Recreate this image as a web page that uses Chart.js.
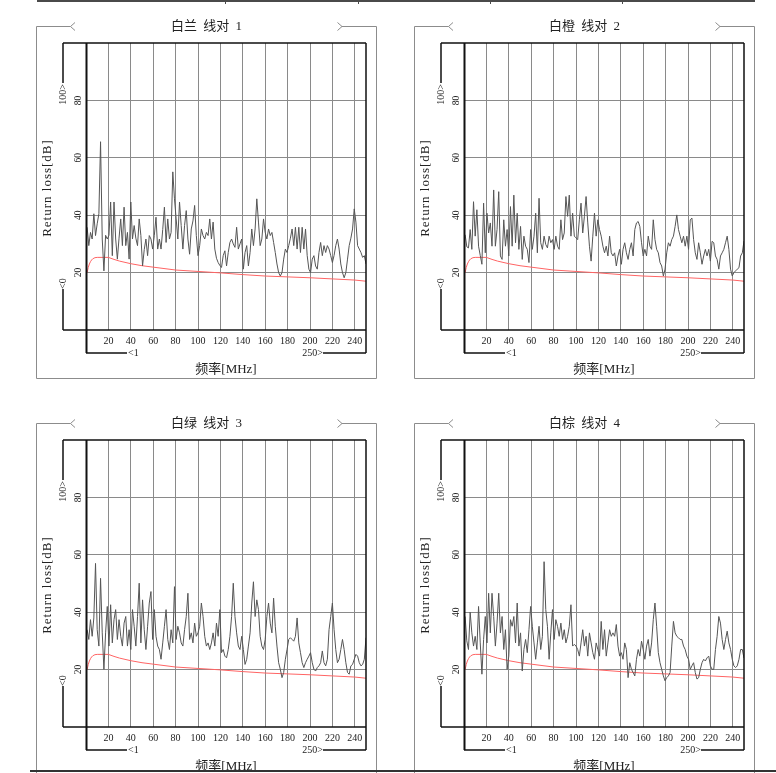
<!DOCTYPE html>
<html><head><meta charset="utf-8">
<script src="https://cdn.jsdelivr.net/npm/chart.js@4.4.1/dist/chart.umd.min.js"></script>
<style>
html,body{margin:0;padding:0;background:#fff;width:776px;height:773px;overflow:hidden;}
#page{position:relative;width:776px;height:773px;overflow:hidden;background:#fff;}
canvas{position:absolute;}
.rule{position:absolute;background:#4a4a4a;}
</style></head><body>
<div id="page">
  <div class="rule" style="left:37px;top:0;width:718px;height:2px"></div>
  <div class="rule" style="left:225px;top:0;width:1px;height:4px"></div>
  <div class="rule" style="left:358px;top:0;width:1px;height:4px"></div>
  <div class="rule" style="left:490px;top:0;width:1px;height:4px"></div>
  <div class="rule" style="left:622px;top:0;width:1px;height:4px"></div>
  <canvas id="c1" width="400" height="400" style="left:0;top:0"></canvas>
  <canvas id="c2" width="400" height="400" style="left:378px;top:0"></canvas>
  <canvas id="c3" width="400" height="400" style="left:0;top:397px"></canvas>
  <canvas id="c4" width="400" height="400" style="left:378px;top:397px"></canvas>
  <div class="rule" style="left:30px;top:770px;width:746px;height:2px;background:#333"></div>
</div>
<script>
// ---------- data ----------
const PANEL_TITLES = ['白兰 线对 1', '白橙 线对 2', '白绿 线对 3', '白棕 线对 4'];
const X_TITLE = '频率[MHz]';
const Y_TITLE = 'Return loss[dB]';
const X_TICKS = [20, 40, 60, 80, 100, 120, 140, 160, 180, 200, 220, 240];
const Y_TICKS = [20, 40, 60, 80];
const X_RANGE = [0, 250];
const Y_RANGE = [0, 100];
const X_BRACKET = ['<1', '250>'];
const Y_BRACKET = ['<0', '100>'];

// limit line (red)
const LIMIT_FREQ = [1, 2, 3, 4, 5, 6, 8, 10, 20, 25, 30, 40, 50, 60, 80, 100, 120, 140, 160, 180, 200, 220, 240, 250];
const LIMIT_DB   = [20, 21.8, 23, 23.8, 24.4, 24.8, 25.2, 25.3, 25.3, 24.6, 24, 23.1, 22.4, 21.9, 20.9, 20.4, 19.9, 19.3, 18.8, 18.5, 18.2, 17.8, 17.4, 17.0];

// measured return loss, one value every 1.5 MHz starting at 1 MHz
const PAIR1_DB = [
  35.8, 29.4, 34, 31.7, 40.5, 32.9, 37, 40.5, 65.6, 31.7,
  20.6, 33, 31.7, 33, 44.6, 25.9, 44.6, 31.7, 24.7, 32,
  38.7, 29.4, 42.8, 29.4, 34, 24.7, 44.6, 31.7, 36.4, 32,
  29.4, 38.7, 32.9, 22.3, 28, 31.7, 25.9, 32.9, 31.7, 28.2,
  33, 39.3, 28.2, 31.7, 28.2, 35, 42.8, 30.5, 38.7, 31.7,
  34, 55.1, 45.7, 38.7, 31.7, 44.6, 36.4, 28.2, 36.4, 41.6,
  31.7, 26.4, 35.2, 38, 43.4, 32.9, 25.9, 29.4, 35.2, 32.9,
  31.7, 34, 32.9, 38.7, 31.7, 37.6, 28.2, 25, 23.5, 22.5,
  21.8, 25.9, 27.6, 22.3, 27, 30.5, 31.7, 30, 28.8, 35.8,
  28.2, 30, 31.7, 21.2, 27, 29.4, 22.3, 27, 35.2, 29.4,
  35.2, 45.7, 37.6, 29.4, 31.7, 38.7, 34, 31.7, 35.2, 32.9,
  34, 30.5, 27, 23, 20, 18.8, 20, 24.7, 28.2, 27,
  29.4, 32, 35.2, 29.4, 35.8, 28.2, 35.8, 27, 35.8, 28.2,
  35.2, 25.9, 21.2, 20, 24.7, 25.9, 22.3, 21.2, 27, 30.5,
  25.9, 29.4, 27, 29.4, 28.2, 25.9, 23.5, 26, 29.4, 31.7,
  28.2, 23, 20, 18.2, 20, 24.7, 29.4, 32, 35.2, 42.2,
  37.6, 29.4, 28.2, 27, 25.3, 25.9, 23
];
const PAIR2_DB = [
  33.2, 29, 28.6, 35, 28.1, 44.7, 32.7, 41.9, 29.2, 26,
  22.9, 44.2, 26.9, 40.7, 33.8, 37.3, 29.2, 48.8, 29.2, 35,
  48.2, 25.8, 24.6, 38.4, 29.2, 35, 25.8, 43, 29.2, 47,
  30.4, 40.7, 28.1, 36.1, 24.6, 32.7, 29.2, 28.1, 23.5, 35,
  28.1, 32.7, 40.7, 26.9, 45.9, 30.4, 28.1, 32.7, 29.8, 28.6,
  32.7, 30.4, 31.5, 28.1, 32.7, 29.2, 28.1, 38.4, 31.5, 33.8,
  46.5, 39.6, 47, 32.7, 40.7, 32.7, 32.1, 31.5, 38.4, 44.2,
  33.8, 39.6, 46.5, 37.3, 29.2, 24, 32.7, 40.7, 32.7, 38.4,
  35, 32.7, 29.2, 26.9, 29.2, 25.8, 32.7, 26.9, 25.8, 26.9,
  22.3, 25.8, 28.1, 22.9, 28.1, 30.4, 26.9, 24.6, 28.1, 30.4,
  25.8, 35, 37.3, 37.8, 36.1, 30.4, 25.8, 28.1, 25.8, 32.7,
  29.2, 28.1, 38.4, 31.5, 28.1, 26.9, 23.5, 22.3, 18.8, 21.2,
  26.9, 30.4, 29.2, 31.5, 32.7, 36.1, 40.1, 35, 32.7, 30.4,
  32.7, 29.2, 32.7, 28.1, 38.4, 39, 31.5, 26.9, 24.6, 30.4,
  26.9, 22.9, 25.8, 28.1, 25.8, 28.1, 24, 30.9, 30.4, 25.8,
  24.6, 21.2, 25.8, 26.9, 28.1, 30.4, 32.7, 28.1, 21.2, 18.8,
  20, 20.6, 21.2, 21.7, 25.8, 26.9, 31
];
const PAIR3_DB = [
  33.9, 30.5, 37.4, 31.6, 38, 57, 33.9, 28.2, 51.8, 32.8,
  20.1, 32.8, 42, 28.2, 42.6, 29.3, 37.4, 40.9, 30.5, 37.4,
  31.6, 28.2, 36.2, 38.5, 28.2, 33.9, 27, 40.9, 35.1, 28.2,
  38.5, 50.1, 29.3, 44.3, 33.9, 27, 35.1, 43.2, 47.2, 30.5,
  40.9, 31.6, 28.2, 27, 23.6, 29.3, 35.1, 40.9, 30.5, 27,
  33.9, 29.3, 48.9, 30.5, 35.1, 32.8, 29.3, 28.2, 33.9, 38.5,
  46.6, 30.5, 32.8, 29.3, 36.2, 31.6, 32.8, 35.1, 43.2, 38.5,
  31.6, 28.2, 29.3, 27, 29.3, 32.8, 28.2, 36.2, 31.6, 40.9,
  25.9, 27, 24.7, 24.1, 27, 31.6, 38.5, 50.1, 38.5, 32.8,
  28.2, 27, 31.6, 27, 21.8, 23.6, 28.2, 32.8, 43.2, 50.6,
  38.5, 44.3, 40.9, 31.6, 28.2, 27, 30.5, 38.5, 43.2, 36.2,
  32.8, 44.9, 35.1, 28.2, 22.4, 20.1, 17.2, 19, 23.6, 27,
  30.5, 31.1, 30.5, 29.9, 31.6, 38, 29.3, 25.9, 22.4, 20.7,
  22.4, 23.6, 24.7, 25.9, 22.4, 20.1, 19.5, 20.7, 21.3, 22.4,
  26.5, 22.4, 21.3, 23.6, 33.9, 38.5, 43.2, 33.9, 27, 22.4,
  23.6, 27, 30.5, 27, 22.4, 19, 18.4, 21.3, 21.8, 23.6,
  25.3, 24.7, 22.4, 21.3, 21.8, 23.6, 31.1
];
const PAIR4_DB = [
  38.5, 30, 27, 40, 32.8, 28.2, 31.6, 27, 42, 29.3,
  18.4, 30.5, 38.5, 29.3, 46.6, 32.8, 46.6, 38.5, 28.2, 36.2,
  46.6, 32.8, 38.5, 27, 33.9, 20.1, 24.7, 37.4, 35.1, 38.5,
  29.3, 43.2, 28.2, 32.8, 19.5, 27, 30.5, 25.9, 33.9, 42,
  35.1, 29.3, 23.6, 29.3, 35.1, 27, 31.6, 57.6, 40.9, 35.1,
  23.6, 32.8, 40.9, 30.5, 37.4, 35.1, 31.6, 36.2, 30.5, 33.9,
  29.3, 31.6, 35.1, 42.6, 28.2, 28.8, 28.2, 27, 24.7, 29.3,
  33.9, 28.2, 31.6, 24.7, 32.8, 29.3, 25.9, 23.6, 29.3, 27,
  24.7, 36.8, 27, 33.9, 24.7, 29.3, 33.9, 31.6, 32.8, 31.6,
  35.7, 28.2, 24.7, 25.9, 23.6, 29.3, 27, 17.2, 22.4, 20.1,
  19, 17.8, 23.6, 27, 24.7, 29.9, 27, 23.6, 28.2, 30.5,
  24.7, 29.3, 37.4, 43.2, 35.1, 25.9, 22.4, 20.1, 17.8, 16.1,
  17.2, 17.8, 19, 28.2, 36.8, 32.8, 31.6, 31.1, 30.5, 30.5,
  28.2, 27, 24.7, 23.6, 20.1, 21.3, 22.4, 19, 16.7, 17.2,
  20.1, 22.4, 23.6, 23, 24.1, 24.7, 21.3, 20.1, 20.1, 27,
  31.6, 38.5, 36.2, 30.5, 27, 30.5, 33.4, 29.3, 27, 23.6,
  21.3, 20.7, 21.3, 23.6, 27, 27, 24
];
const PAIRS = [PAIR1_DB, PAIR2_DB, PAIR3_DB, PAIR4_DB];
const FREQ_MHZ = PAIR1_DB.map((_, i) => 1 + 1.5 * i); // sampling grid

// ---------- styling ----------
const FONT = "'Liberation Serif', 'Noto Sans CJK SC', serif";
const TEXT_COLOR = '#222';
const GRID_COLOR = '#8a8a8a';

const framePlugin = {
  id: 'frame',
  afterDraw(chart, args, opts) {
    const ctx = chart.ctx;
    const ca = chart.chartArea;
    const xs = chart.scales.x, ys = chart.scales.y;
    const A = Math.round(ca.left), R = Math.round(ca.right);
    const T = Math.round(ca.top), B = Math.round(ca.bottom);
    const L = Math.round(ys.left), BB = Math.round(xs.bottom);
    ctx.save();

    // outer gray box with title brackets
    const oL = L - 26.5, oR = R + 10.5, oT = T - 16.5, oB = B + 48.5;
    const tipL = oL + 34, tipR = oR - 34.5;
    ctx.strokeStyle = '#8c8c8c';
    ctx.lineWidth = 1;
    ctx.beginPath();
    ctx.moveTo(tipL, oT); ctx.lineTo(oL, oT); ctx.lineTo(oL, oB);
    ctx.lineTo(oR, oB); ctx.lineTo(oR, oT); ctx.lineTo(tipR, oT);
    ctx.moveTo(tipL + 4.5, oT - 4); ctx.lineTo(tipL, oT); ctx.lineTo(tipL + 4.5, oT + 4);
    ctx.moveTo(tipR - 4.5, oT - 4); ctx.lineTo(tipR, oT); ctx.lineTo(tipR - 4.5, oT + 4);
    ctx.stroke();

    // title
    ctx.fillStyle = TEXT_COLOR;
    ctx.font = '13px ' + FONT;
    ctx.textAlign = 'center';
    ctx.textBaseline = 'middle';
    try { ctx.wordSpacing = '3px'; } catch (e) {}
    ctx.fillText(opts.title, (oL + oR) / 2, oT);
    try { ctx.wordSpacing = '0px'; } catch (e) {}

    // black frame
    ctx.strokeStyle = '#111';
    ctx.lineWidth = 1.5;
    ctx.beginPath();
    ctx.moveTo(L, T); ctx.lineTo(R, T);
    ctx.moveTo(L, T); ctx.lineTo(L, T + 40);
    ctx.moveTo(L, B - 41); ctx.lineTo(L, B);
    ctx.moveTo(L, B); ctx.lineTo(R, B);
    ctx.moveTo(R, T); ctx.lineTo(R, BB);
    ctx.moveTo(A, BB); ctx.lineTo(A + 41, BB);
    ctx.moveTo(R - 43, BB); ctx.lineTo(R, BB);
    ctx.stroke();
    ctx.lineWidth = 2;
    ctx.beginPath();
    ctx.moveTo(A + 0.5, T); ctx.lineTo(A + 0.5, BB);
    ctx.stroke();

    // bracket labels
    ctx.font = '10px ' + FONT;
    ctx.textBaseline = 'middle';
    ctx.textAlign = 'left';
    ctx.fillText(X_BRACKET[0], A + 42, BB);
    ctx.textAlign = 'right';
    ctx.fillText(X_BRACKET[1], R - 43, BB);

    ctx.save();
    ctx.translate(L, B - 41);
    ctx.rotate(-Math.PI / 2);
    ctx.textAlign = 'left';
    ctx.fillText(Y_BRACKET[0], 0, 0);
    ctx.restore();
    ctx.save();
    ctx.translate(L, T + 41);
    ctx.rotate(-Math.PI / 2);
    ctx.textAlign = 'right';
    ctx.fillText(Y_BRACKET[1], 0, 0);
    ctx.restore();

    // rotated y tick labels
    ctx.font = '9.5px ' + FONT;
    Y_TICKS.forEach(v => {
      const py = ys.getPixelForValue(v);
      ctx.save();
      ctx.translate(A - 8, py);
      ctx.rotate(-Math.PI / 2);
      ctx.textAlign = 'center';
      ctx.fillText(String(v), 0, 0);
      ctx.restore();
    });

    // axis titles
    ctx.font = '13px ' + FONT;
    ctx.save();
    ctx.translate(A - 38, (T + B) / 2 + 1.5);
    ctx.rotate(-Math.PI / 2);
    ctx.textAlign = 'center';
    try { ctx.letterSpacing = '1px'; } catch (e) {}
    ctx.fillText(Y_TITLE, 0, 0);
    ctx.restore();
    ctx.textAlign = 'center';
    ctx.fillText(X_TITLE, (A + R) / 2, B + 40);

    ctx.restore();
  }
};

function makeChart(id, title, values) {
  const canvas = document.getElementById(id);
  return new Chart(canvas, {
    type: 'line',
    data: {
      datasets: [
        {
          data: values.map((v, i) => ({ x: FREQ_MHZ[i], y: v })),
          borderColor: '#555555', borderWidth: 1, pointRadius: 0, tension: 0, fill: false
        },
        {
          data: LIMIT_DB.map((v, i) => ({ x: LIMIT_FREQ[i], y: v })),
          borderColor: '#ff6464', borderWidth: 1, pointRadius: 0, tension: 0, fill: false
        }
      ]
    },
    options: {
      responsive: false,
      animation: false,
      devicePixelRatio: 1,
      events: [],
      layout: { padding: { left: 63, top: 43, right: 34, bottom: 47 } },
      plugins: {
        legend: { display: false },
        tooltip: { enabled: false },
        title: { display: false },
        frame: { title: title }
      },
      scales: {
        x: {
          type: 'linear', min: X_RANGE[0], max: X_RANGE[1],
          afterBuildTicks: s => { s.ticks = X_TICKS.map(v => ({ value: v })); },
          afterFit: s => { s.height = 23; },
          grid: { color: GRID_COLOR, lineWidth: 1, drawTicks: false },
          border: { display: false },
          ticks: { color: TEXT_COLOR, font: { family: FONT, size: 10 }, padding: 5, maxRotation: 0, autoSkip: false }
        },
        y: {
          type: 'linear', min: Y_RANGE[0], max: Y_RANGE[1],
          afterBuildTicks: s => { s.ticks = Y_TICKS.map(v => ({ value: v })); },
          afterFit: s => { s.width = 23; },
          grid: { color: GRID_COLOR, lineWidth: 1, drawTicks: false },
          border: { display: false },
          ticks: { display: false }
        }
      }
    },
    plugins: [framePlugin]
  });
}

['c1', 'c2', 'c3', 'c4'].forEach((id, i) => makeChart(id, PANEL_TITLES[i], PAIRS[i]));
</script>
</body></html>
